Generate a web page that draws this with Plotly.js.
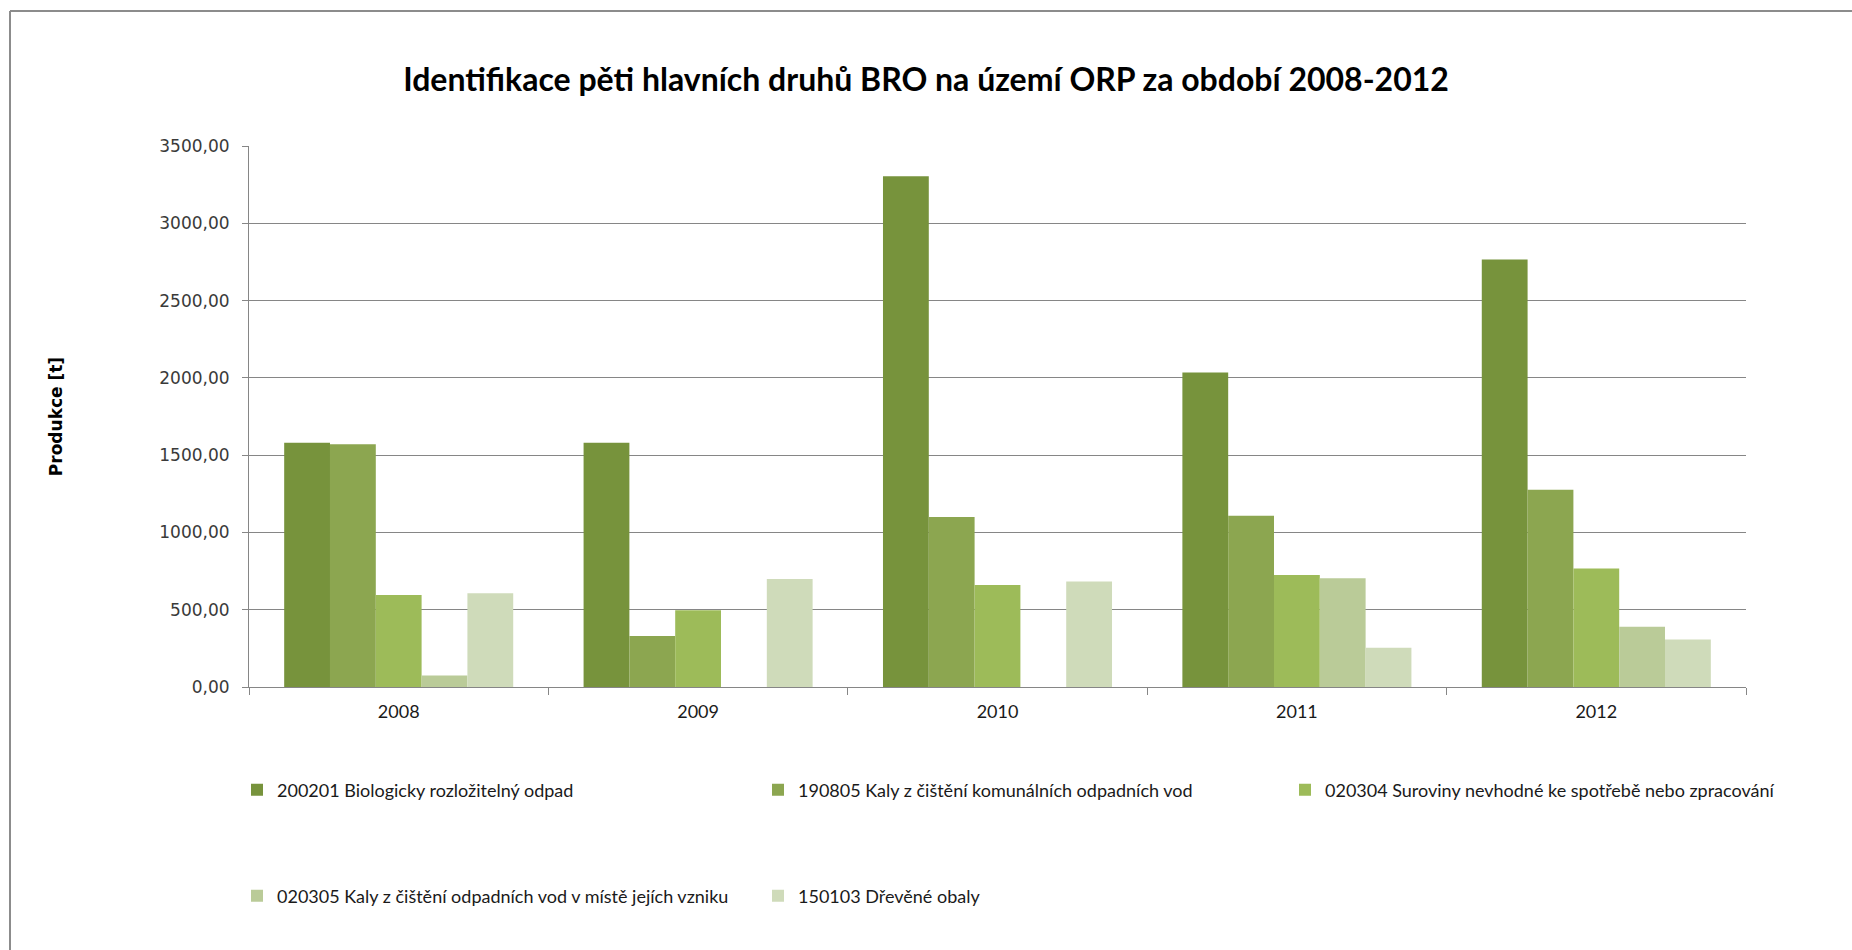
<!DOCTYPE html>
<html>
<head>
<meta charset="utf-8">
<script src="https://cdn.plot.ly/plotly-3.0.1.min.js"></script>
<style>
html,body{margin:0;padding:0;background:#fff;}
#chart{width:1852px;height:950px;}
</style>
</head>
<body>
<div id="chart"></div>
<script>
// ---- data ----
var years = ['2008', '2009', '2010', '2011', '2012'];
var seriesNames = [
  '200201 Biologicky rozložitelný odpad',
  '190805 Kaly z čištění komunálních odpadních vod',
  '020304 Suroviny nevhodné ke spotřebě nebo zpracování',
  '020305 Kaly z čištění odpadních vod v místě jejích vzniku',
  '150103 Dřevěné obaly'
];
var s200201 = [1580, 1580, 3305, 2035, 2765];
var s190805 = [1570, 330, 1100, 1108, 1276];
var s020304 = [595, 497, 660, 724, 766];
var s020305 = [75, 0, 0, 704, 390];
var s150103 = [607, 698, 683, 254, 308];
var seriesColors = ['#77933C', '#8CA650', '#9DBB59', '#BACB98', '#CFDBBA'];
var yTickVals = [0, 500, 1000, 1500, 2000, 2500, 3000, 3500];

// ---- layout geometry (px) ----
var W = 1852, H = 950;
var L = 249, R = 1746, T = 146, B = 687;
function px2x(p){ return (p - L) / (R - L); }
function px2y(p){ return (B - p) / (B - T); }

var allValues = [s200201, s190805, s020304, s020305, s150103];
var legendNames = ['legend', 'legend2', 'legend3', 'legend4', 'legend5'];
// legend positions: [left px of legend box, center y px]
var legendPos = [[237, 790], [758, 790], [1285, 790], [237, 896], [758, 896]];

var traces = allValues.map(function(vals, i){
  return {
    type: 'bar',
    name: seriesNames[i],
    x: years,
    y: vals,
    marker: {color: seriesColors[i], line: {width: 0}},
    legend: legendNames[i],
    hoverinfo: 'x+y+name'
  };
});

var layout = {
  width: W, height: H,
  margin: {l: L, r: W - R, t: T, b: H - B, pad: 0},
  paper_bgcolor: '#ffffff',
  plot_bgcolor: '#ffffff',
  separators: ', ',
  barmode: 'group',
  bargap: 0.235,
  bargroupgap: 0,
  font: {family: 'Lato, "Open Sans", sans-serif', color: '#1a1a1a'},
  title: {
    text: 'Identifikace pěti hlavních druhů BRO na území ORP za období 2008-2012',
    font: {family: 'Lato, sans-serif', size: 32, color: '#000000', weight: 'bold'},
    x: 0.5, xref: 'container', xanchor: 'center',
    y: 1 - 80 / H, yref: 'container', yanchor: 'middle'
  },
  xaxis: {
    type: 'category',
    categoryarray: years,
    showgrid: false,
    showline: true, linecolor: '#868686', linewidth: 1,
    ticks: 'outside', tickson: 'boundaries', ticklen: 7, tickcolor: '#868686',
    ticklabelstandoff: 8,
    tickfont: {family: 'Lato, sans-serif', size: 18, color: '#1a1a1a'},
    zeroline: false,
    fixedrange: true
  },
  yaxis: {
    range: [0, 3500],
    tickvals: yTickVals,
    tickformat: '.2f',
    showgrid: true, gridcolor: '#868686', gridwidth: 1,
    showline: true, linecolor: '#868686', linewidth: 1,
    ticks: 'outside', ticklen: 6, tickcolor: '#868686',
    ticklabelstandoff: 9,
    tickfont: {family: 'DejaVu Sans, Verdana, sans-serif', size: 17, color: '#3a3a3a'},
    zeroline: false,
    title: {
      text: 'Produkce [t]',
      font: {family: 'DejaVu Sans, Verdana, sans-serif', size: 17, color: '#000000', weight: 'bold'},
      standoff: 92
    },
    fixedrange: true
  },
  shapes: [
    {type: 'line', xref: 'paper', yref: 'paper', x0: px2x(10), x1: px2x(1900), y0: px2y(11), y1: px2y(11), line: {color: '#8c8c8c', width: 2}},
    {type: 'line', xref: 'paper', yref: 'paper', x0: px2x(10), x1: px2x(10), y0: px2y(11), y1: px2y(1000), line: {color: '#8c8c8c', width: 2}}
  ],
  showlegend: true
};

legendNames.forEach(function(ln, i){
  layout[ln] = {
    orientation: 'h',
    x: px2x(legendPos[i][0]), xanchor: 'left',
    y: px2y(legendPos[i][1]), yanchor: 'middle',
    font: {family: 'Lato, sans-serif', size: 18, color: '#1a1a1a'},
    bgcolor: 'rgba(0,0,0,0)',
    borderwidth: 0
  };
});

Plotly.newPlot('chart', traces, layout, {displayModeBar: false});
</script>
</body>
</html>
